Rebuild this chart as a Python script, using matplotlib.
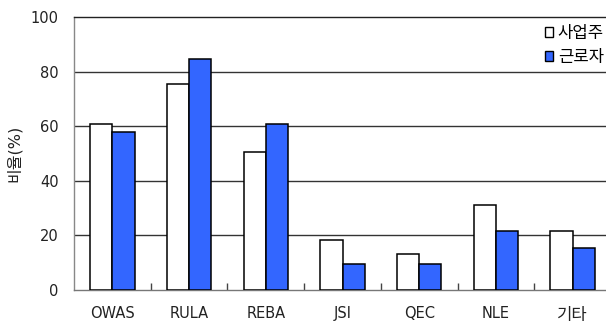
import matplotlib
matplotlib.use("Agg")
import matplotlib.pyplot as plt
from matplotlib.patches import Patch
import numpy as np

plt.rcParams['font.family'] = ['DejaVu Sans', 'Noto Sans CJK KR']

categories = ["OWAS", "RULA", "REBA", "JSI", "QEC", "NLE", "기타"]
employer = [60.8, 75.4, 50.7, 18.3, 13.1, 31.0, 21.6]
worker = [58.0, 84.8, 60.8, 9.4, 9.4, 21.6, 15.2]
series_names = ["사업주", "근로자"]
y_ticks = [0, 20, 40, 60, 80, 100]
y_label = "비율(%)"

blue = "#3366ff"
fs = 10.5
fs_kr = 12

fig = plt.figure(figsize=(6.06, 3.23), dpi=100)
ax = fig.add_axes([74/606, (323-289.7)/323, (611-74)/606, (289.7-17.3)/323])

x = np.arange(len(categories))
w = 0.29
ax.bar(x - w/2, employer, width=w, color="white", edgecolor="black", linewidth=1.1, zorder=3)
ax.bar(x + w/2, worker, width=w, color=blue, edgecolor="black", linewidth=1.1, zorder=3)

ax.set_xlim(-0.5, len(categories) - 0.5)
ax.set_ylim(0, 100)
ax.set_yticks(y_ticks)
ax.set_yticklabels([str(v) for v in y_ticks], fontsize=fs, color="#222222")
for v in y_ticks[1:-1]:
    ax.axhline(v, color="#333333", linewidth=1.0, zorder=1)

ax.set_xticks(x)
ax.set_xticklabels(categories, fontsize=fs, color="#222222")
for lbl in ax.get_xticklabels():
    if not lbl.get_text().isascii():
        lbl.set_fontsize(fs_kr)
ax.set_xticks(np.arange(0.5, len(categories) - 0.5 + 1e-9, 1.0), minor=True)
ax.tick_params(axis='x', which='major', length=0, pad=12)
ax.tick_params(axis='x', which='minor', length=5, direction='in', color="#444444", width=1)
ax.tick_params(axis='y', length=0, pad=11)

ax.spines['left'].set_color("#888888")
ax.spines['bottom'].set_color("#777777")
ax.spines['top'].set_color("#222222")
ax.spines['right'].set_visible(False)
for s in ax.spines.values():
    s.set_linewidth(1.0)

ax.set_ylabel(y_label, fontsize=11.5, color="#222222")
ax.yaxis.set_label_coords(-52/537, 0.5)

handles = [Patch(facecolor="white", edgecolor="black", linewidth=1.0),
           Patch(facecolor=blue, edgecolor="black", linewidth=1.0)]
fig.legend(handles, series_names, loc="upper right", bbox_to_anchor=(604/606, (323-24)/323),
           frameon=False, fontsize=fs_kr, handlelength=0.5, handleheight=0.5,
           handletextpad=0.3, labelspacing=0.35, borderaxespad=0, borderpad=0)

fig.savefig("out.png", dpi=100)
